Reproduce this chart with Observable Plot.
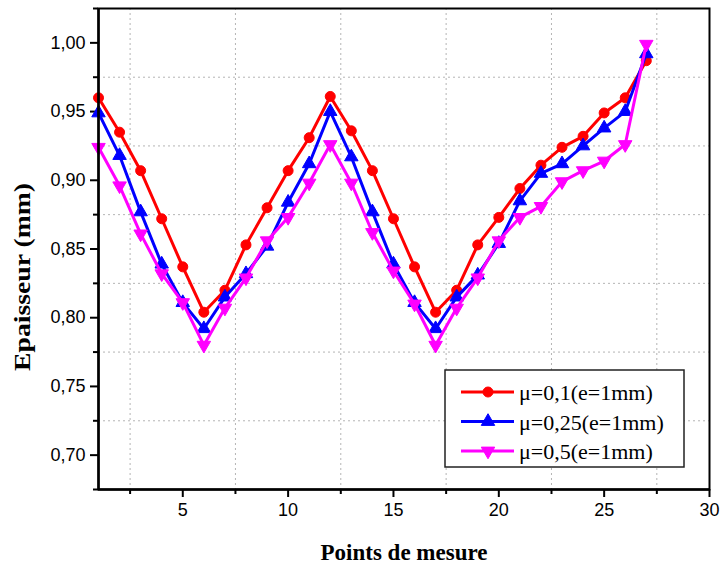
<!DOCTYPE html>
<html>
<head>
<meta charset="utf-8">
<script src="https://cdn.jsdelivr.net/npm/d3@7"></script>
<script src="https://cdn.jsdelivr.net/npm/@observablehq/plot@0.6"></script>
<style>
  html, body { margin: 0; padding: 0; background: #fff; }
  #chart { position: relative; width: 721px; height: 567px; }
</style>
</head>
<body>
<div id="chart"></div>
<script>
// ---- data ----
const points = [1,2,3,4,5,6,7,8,9,10,11,12,13,14,15,16,17,18,19,20,21,22,23,24,25,26,27];
const mu01  = [0.960,0.935,0.907,0.872,0.837,0.804,0.820,0.853,0.880,0.907,0.931,0.961,0.936,0.907,0.872,0.837,0.804,0.820,0.853,0.873,0.894,0.911,0.924,0.932,0.949,0.960,0.987];
const mu025 = [0.949,0.918,0.877,0.839,0.811,0.792,0.815,0.832,0.852,0.884,0.912,0.950,0.917,0.877,0.839,0.811,0.792,0.815,0.831,0.854,0.885,0.905,0.912,0.925,0.938,0.950,0.992];
const mu05  = [0.924,0.896,0.861,0.832,0.811,0.780,0.807,0.829,0.856,0.873,0.898,0.926,0.898,0.862,0.834,0.810,0.780,0.807,0.829,0.856,0.873,0.881,0.899,0.907,0.914,0.926,0.999];
const seriesNames = ["μ=0,1(e=1mm)", "μ=0,25(e=1mm)", "μ=0,5(e=1mm)"];
const seriesColors = ["#FF0000", "#0000FF", "#FF00FF"];
const xMajor = [5,10,15,20,25,30];
const xMinor = [2.5,7.5,12.5,17.5,22.5,27.5];
const yMajor = [0.70,0.75,0.80,0.85,0.90,0.95,1.00];
const yMinor = [0.675,0.725,0.775,0.825,0.875,0.925,0.975,1.025];
const yGrid = [0.725,0.775,0.825,0.875,0.925,0.975];
const xTitle = "Points de mesure";
const yTitle = "Epaisseur (mm)";

const triangleDown = {
  draw(ctx, size) {
    const y = -Math.sqrt(size / (Math.sqrt(3) * 3));
    ctx.moveTo(0, -y * 2);
    ctx.lineTo(-Math.sqrt(3) * y, y);
    ctx.lineTo(Math.sqrt(3) * y, y);
    ctx.closePath();
  }
};
const symbols = ["circle", "triangle", triangleDown];
const symbolR = [5, 5, 5];

const allSeries = [mu01, mu025, mu05];
const rows = [];
allSeries.forEach((vals, s) => vals.forEach((v, i) => rows.push({x: points[i], y: v, s})));

const fmt = d => d.toFixed(2).replace(".", ",");

const marks = [
  Plot.gridX(xMinor, {stroke: "#b4b4b4", strokeOpacity: 1, strokeWidth: 1, strokeDasharray: "2,3"}),
  Plot.gridY(yGrid, {stroke: "#b4b4b4", strokeOpacity: 1, strokeWidth: 1, strokeDasharray: "2,3"}),
  Plot.axisX(xMajor, {tickSize: 8, tickPadding: 6, strokeWidth: 2, fontSize: 18, tickFormat: d => String(d), label: null}),
  Plot.axisX(xMinor, {tickSize: 5, strokeWidth: 2, tickFormat: () => "", label: null}),
  Plot.axisY(yMajor, {tickSize: 8, tickPadding: 5, strokeWidth: 2, fontSize: 18, tickFormat: fmt, label: null}),
  Plot.axisY(yMinor, {tickSize: 5, strokeWidth: 2, tickFormat: () => "", label: null}),
];
allSeries.forEach((vals, s) => {
  const data = rows.filter(d => d.s === s);
  marks.push(Plot.line(data, {x: "x", y: "y", stroke: seriesColors[s], strokeWidth: 3}));
  marks.push(Plot.dot(data, {x: "x", y: "y", fill: seriesColors[s], stroke: seriesColors[s], strokeWidth: 1, symbol: symbols[s], r: symbolR[s]}));
});
marks.push(Plot.frame({stroke: "#000", strokeWidth: 2}));
marks.push(Plot.ruleX([1], {stroke: "#000", strokeWidth: 2.5}));
marks.push(Plot.ruleY([0.675], {stroke: "#000", strokeWidth: 2.5}));

const plot = Plot.plot({
  width: 721,
  height: 567,
  marginTop: 8,
  marginRight: 12,
  marginBottom: 78,
  marginLeft: 98,
  style: {fontFamily: "'Liberation Sans', Arial, sans-serif", color: "#000", background: "#fff", overflow: "visible"},
  x: {domain: [1, 30]},
  y: {domain: [0.675, 1.025]},
  marks
});
document.getElementById("chart").appendChild(plot);

// ---- titles & legend (layout) ----
const svg = d3.select(plot);
svg.append("text")
  .attr("x", 404).attr("y", 560)
  .attr("text-anchor", "middle")
  .attr("font-family", "'Liberation Serif', 'Times New Roman', serif")
  .attr("font-weight", "bold").attr("font-size", 23).attr("fill", "#000")
  .text(xTitle);
svg.append("text")
  .attr("transform", "translate(30,277) rotate(-90)")
  .attr("text-anchor", "middle")
  .attr("font-family", "'Liberation Serif', 'Times New Roman', serif")
  .attr("font-weight", "bold").attr("font-size", 24).attr("fill", "#000")
  .attr("textLength", 188).attr("lengthAdjust", "spacingAndGlyphs")
  .text(yTitle);

const lg = svg.append("g");
lg.append("rect").attr("x", 445).attr("y", 370).attr("width", 239).attr("height", 97)
  .attr("fill", "#fff").attr("stroke", "#222").attr("stroke-width", 1.5);
const d3syms = [d3.symbolCircle, d3.symbolTriangle, triangleDown];
seriesNames.forEach((name, i) => {
  const cy = 392 + i * 29.5;
  lg.append("line").attr("x1", 461).attr("x2", 514).attr("y1", cy).attr("y2", cy)
    .attr("stroke", seriesColors[i]).attr("stroke-width", 3);
  lg.append("path").attr("transform", `translate(488,${cy})`)
    .attr("d", d3.symbol(d3syms[i], Math.PI * 25)())
    .attr("fill", seriesColors[i]).attr("stroke", seriesColors[i]);
  lg.append("text").attr("x", 519).attr("y", cy + 8)
    .attr("text-anchor", "start")
    .attr("font-family", "'Liberation Serif', 'Times New Roman', serif")
    .attr("font-size", 22).attr("fill", "#000")
    .text(name);
});
</script>
</body>
</html>
